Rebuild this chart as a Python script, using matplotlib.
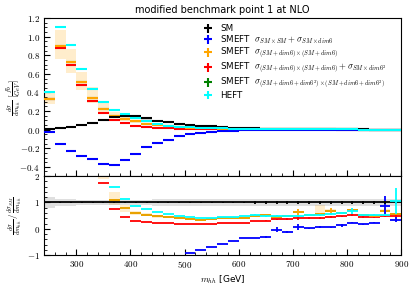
import numpy as np
import matplotlib
matplotlib.use('Agg')
import matplotlib.pyplot as plt
from matplotlib.ticker import AutoMinorLocator, FormatStrFormatter, MultipleLocator

# binning in m_hh (GeV), 20 GeV bins
mhh_edges = np.arange(240, 901, 20)

# main panel, dsigma/dm_hh [fb/GeV]
sm = [0.007, 0.018, 0.030, 0.050, 0.072, 0.100, 0.135, 0.148, 0.145, 0.120,
      0.097, 0.080, 0.064, 0.052, 0.042, 0.034, 0.028, 0.023, 0.019, 0.015,
      0.012, 0.010, 0.008, 0.0065, 0.0053, 0.0043, 0.0035, 0.0028, 0.0023, 0.0019,
      0.0015, 0.0012, 0.0010]
smeft_lin = [-0.030, -0.150, -0.235, -0.280, -0.320, -0.370, -0.380, -0.325, -0.260, -0.190,
             -0.145, -0.110, -0.070, -0.048, -0.034, -0.023, -0.016, -0.011, -0.0067, -0.005,
             -0.0036, -0.0003, -0.0009, 0.0004, 0.0001, 0.00026, 0.00018, 0.00036, 0.00055, 0.00032,
             0.00035, 0.00106, 0.00035]
smeft_quad = [0.330, 0.900, 0.730, 0.515, 0.340, 0.220, 0.150, 0.118, 0.088, 0.065,
              0.0466, 0.036, 0.0256, 0.0187, 0.0147, 0.0126, 0.0112, 0.0092, 0.0078, 0.0074,
              0.0062, 0.0046, 0.0040, 0.0042, 0.0028, 0.0024, 0.0024, 0.00168, 0.00163, 0.00097,
              0.00075, 0.00082, 0.00056]
smeft_quad2 = [0.330, 0.880, 0.700, 0.480, 0.305, 0.175, 0.099, 0.067, 0.0435, 0.030,
               0.0223, 0.0168, 0.0115, 0.0094, 0.0084, 0.0068, 0.0064, 0.0051, 0.0044, 0.0045,
               0.0036, 0.0036, 0.0030, 0.0026, 0.0022, 0.0018, 0.00154, 0.00132, 0.00122, 0.00084,
               0.00066, 0.0006, 0.00047]
smeft_full = [0.330, 0.900, 0.730, 0.515, 0.340, 0.220, 0.150, 0.118, 0.088, 0.065,
              0.0466, 0.036, 0.0256, 0.0187, 0.0147, 0.0126, 0.0112, 0.0092, 0.0078, 0.0074,
              0.0062, 0.0046, 0.0040, 0.0042, 0.0028, 0.0024, 0.0024, 0.00168, 0.00163, 0.00097,
              0.00075, 0.00082, 0.00056]
heft = [0.410, 1.100, 0.910, 0.650, 0.440, 0.300, 0.215, 0.165, 0.126, 0.090,
        0.062, 0.044, 0.032, 0.024, 0.018, 0.0143, 0.0123, 0.0101, 0.0089, 0.0078,
        0.0060, 0.0048, 0.0038, 0.00325, 0.0028, 0.00228, 0.00196, 0.00168, 0.00156, 0.00097,
        0.00078, 0.00062, 0.00105]

# scale uncertainty band of SMEFT (SM+dim6)x(SM+dim6)
quad_band_lo = [0.28, 0.76, 0.61, 0.43, 0.29, 0.19, 0.124, 0.095, 0.075, 0.057,
                0.041, 0.032, 0.023, 0.017, 0.0135, 0.0115, 0.0103, 0.0085, 0.0072, 0.0068,
                0.0057, 0.0042, 0.0037, 0.0039, 0.0026, 0.0023, 0.0022, 0.00155, 0.0015, 0.0009,
                0.0007, 0.00076, 0.00052]
quad_band_hi = [0.40, 1.07, 0.87, 0.62, 0.46, 0.30, 0.19, 0.135, 0.100, 0.072,
                0.051, 0.040, 0.028, 0.020, 0.016, 0.0135, 0.012, 0.0098, 0.0083, 0.0078,
                0.0066, 0.0049, 0.0043, 0.0045, 0.0030, 0.0039, 0.0026, 0.0018, 0.00175, 0.00104,
                0.0008, 0.00088, 0.0006]
# relative scale uncertainty of SM
sm_unc = [0.20, 0.12, 0.12, 0.11, 0.11, 0.11, 0.11, 0.11, 0.11, 0.11,
          0.12, 0.12, 0.12, 0.12, 0.12, 0.12, 0.12, 0.12, 0.13, 0.13,
          0.13, 0.13, 0.13, 0.13, 0.14, 0.14, 0.14, 0.14, 0.14, 0.14,
          0.14, 0.14, 0.14]

# statistical errors, in units of the ratio
sm_stat = [0.02, 0.02, 0.02, 0.02, 0.02, 0.02, 0.02, 0.02, 0.02, 0.02,
           0.03, 0.03, 0.03, 0.03, 0.03, 0.03, 0.03, 0.03, 0.03, 0.04,
           0.04, 0.05, 0.05, 0.05, 0.05, 0.06, 0.06, 0.07, 0.07, 0.07,
           0.07, 0.07, 0.07]
lin_stat = [0]*20 + [0.04, 0.10, 0.03, 0.12, 0.02, 0.03, 0.03, 0.05, 0.03, 0.03, 0.03, 0.38, 0.08]
quad_stat = [0]*20 + [0.02, 0.03, 0.03, 0.12, 0.03, 0.03, 0.10, 0.03, 0.06, 0.03, 0.03, 0.10, 0.04]
quad2_stat = [0]*20 + [0.02, 0.03, 0.03, 0.06, 0.03, 0.03, 0.04, 0.03, 0.04, 0.03, 0.03, 0.04, 0.04]
full_stat = [0]*33
heft_stat = [0]*19 + [0.03, 0.04, 0.03, 0.03, 0.04, 0.03, 0.03, 0.04, 0.05, 0.12, 0.03, 0.03, 0.04, 0.50]

plt.rcParams['mathtext.fontset'] = 'cm'
plt.rcParams['font.size'] = 6

centers = 0.5 * (mhh_edges[:-1] + mhh_edges[1:])
halfw = 0.5 * np.diff(mhh_edges)
sm_arr = np.array(sm)

fig = plt.figure(figsize=(4.14, 2.87), dpi=100)
gs = fig.add_gridspec(2, 1, height_ratios=[2, 1], hspace=0,
                      left=0.106, right=0.969, top=0.937, bottom=0.111)
ax = fig.add_subplot(gs[0])
rax = fig.add_subplot(gs[1], sharex=ax)


def stepband(axis, lo, hi, color, alpha, z):
    lo = np.asarray(lo)
    hi = np.asarray(hi)
    axis.fill_between(mhh_edges, np.r_[lo, lo[-1]], np.r_[hi, hi[-1]],
                      step='post', color=color, alpha=alpha, lw=0, zorder=z)


series = [
    (sm, sm_stat, 'black', 'SM'),
    (smeft_lin, lin_stat, 'blue', r'SMEFT  $\sigma_{SM\times SM}+\sigma_{SM\times dim6}$'),
    (smeft_quad, quad_stat, 'orange', r'SMEFT  $\sigma_{(SM+dim6)\times(SM+dim6)}$'),
    (smeft_quad2, quad2_stat, 'red',
     r'SMEFT  $\sigma_{(SM+dim6)\times(SM+dim6)}+\sigma_{SM\times dim6^2}$'),
    (smeft_full, full_stat, 'green',
     r'SMEFT  $\sigma_{(SM+dim6+dim6^2)\times(SM+dim6+dim6^2)}$'),
    (heft, heft_stat, 'cyan', 'HEFT'),
]
zorders = [6, 5, 4, 3, 2, 7]

# bands
stepband(ax, quad_band_lo, quad_band_hi, 'orange', 0.2, 1)
stepband(ax, sm_arr * (1 - np.array(sm_unc)), sm_arr * (1 + np.array(sm_unc)), 'gray', 0.3, 1)
stepband(rax, np.array(quad_band_lo) / sm_arr, np.array(quad_band_hi) / sm_arr, 'orange', 0.2, 1)
stepband(rax, 1 - np.array(sm_unc), 1 + np.array(sm_unc), 'gray', 0.25, 1)

for (vals, stat, col, lab), z in zip(series, zorders):
    vals = np.array(vals)
    err = np.array(stat) * sm_arr
    ax.errorbar(centers, vals, xerr=halfw, yerr=err, fmt='none', ecolor=col,
                elinewidth=1.5, label=lab, zorder=z)
    rax.errorbar(centers, vals / sm_arr, xerr=halfw, yerr=stat, fmt='none',
                 ecolor=col, elinewidth=1.3, zorder=z)

ax.set_xlim(240, 900)
ax.set_ylim(-0.5, 1.2)
rax.set_ylim(-1, 2)

ax.yaxis.set_major_locator(MultipleLocator(0.2))
ax.yaxis.set_major_formatter(FormatStrFormatter(r'$%.1f$'))
rax.yaxis.set_major_locator(MultipleLocator(1))
rax.yaxis.set_major_formatter(FormatStrFormatter(r'$%d$'))
rax.xaxis.set_major_locator(MultipleLocator(100))
rax.xaxis.set_major_formatter(FormatStrFormatter(r'$%d$'))
for a in (ax, rax):
    a.xaxis.set_minor_locator(AutoMinorLocator(5))
    a.yaxis.set_minor_locator(AutoMinorLocator())
    a.tick_params(which='both', direction='in', labelsize=6.5, pad=3)
    a.tick_params(which='major', length=4)
    a.tick_params(which='minor', length=2)
plt.setp(ax.get_xticklabels(), visible=False)

ax.set_ylabel(r'$\frac{d\sigma}{dm_{hh}}\ [\frac{fb}{GeV}]$', fontsize=6.5)
rax.set_ylabel(r'$\frac{d\sigma}{dm_{hh}}\,/\,\frac{d\sigma_{SM}}{dm_{hh}}$', fontsize=6.5)
ax.yaxis.set_label_coords(-0.055, 0.5)
rax.yaxis.set_label_coords(-0.055, 0.5)
rax.set_xlabel(r'$m_{hh}$ [GeV]', fontsize=6.5, labelpad=2)
ax.set_title('modified benchmark point 1 at NLO', fontsize=7, pad=4)

ax.legend(loc='upper left', bbox_to_anchor=(0.43, 1.0), frameon=False, fontsize=6.3,
          handlelength=1.0, labelspacing=0.0, handletextpad=0.9, borderaxespad=0.3)

fig.savefig('out.png', dpi=100)
